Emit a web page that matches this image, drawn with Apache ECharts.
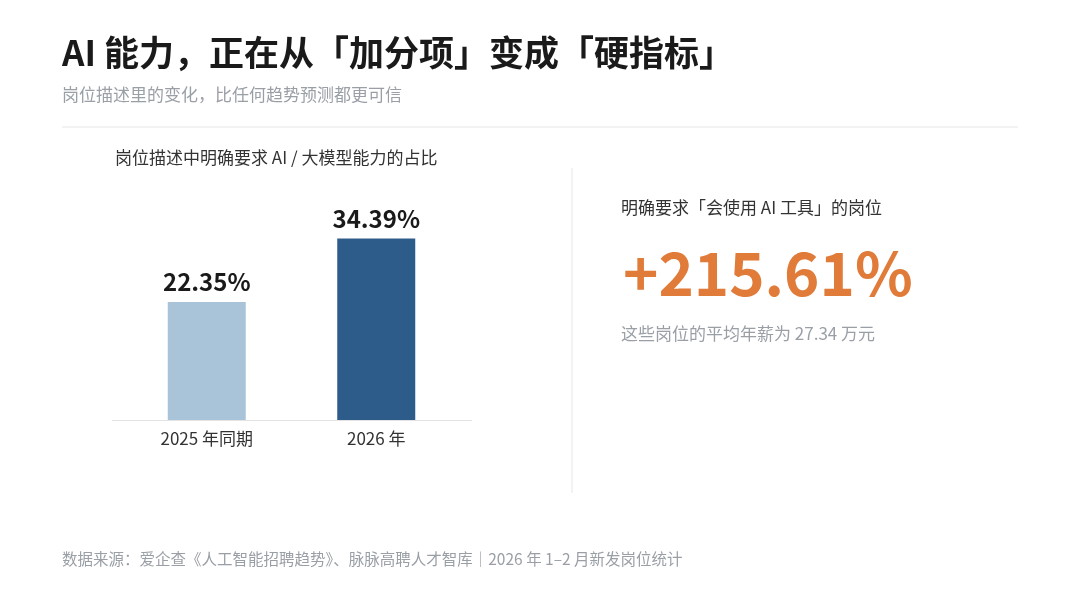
<!DOCTYPE html>
<html><head><meta charset="utf-8">
<script src="https://cdn.jsdelivr.net/npm/echarts@6/dist/echarts.min.js"></script>
<style>html,body{margin:0;padding:0;background:#fff}#c{width:1080px;height:600px}</style>
</head><body><div id="c"></div>
<script>
const categories = ['2025 年同期', '2026 年'];
const values = [22.35, 34.39];
const barColors = ['#A9C4D9', '#2E5C8A'];
const bigNumber = '+215.61%';
const F = '"Noto Sans CJK SC","Noto Sans",sans-serif';
const chart = echarts.init(document.getElementById('c'));
chart.setOption({
  backgroundColor: '#fff',
  grid: {left: 122, width: 339, top: 209, bottom: 180},
  xAxis: {type: 'category', data: categories,
    axisLine: {show: false}, axisTick: {show: false},
    axisLabel: {color: '#333', fontSize: 17, fontFamily: F, margin: 10}},
  yAxis: {type: 'value', min: 0, max: 40, show: false},
  series: [{type: 'bar', barWidth: 78,
    data: values.map((v, i) => ({value: v, itemStyle: {color: barColors[i]}})),
    label: {show: true, position: 'top', distance: 8, formatter: p => p.value.toFixed(2) + '%',
      fontSize: 24, fontWeight: 'bold', color: '#1a1a1a', fontFamily: F}}],
  graphic: [
    {type: 'line', shape: {x1: 112, y1: 420.5, x2: 472, y2: 420.5}, style: {stroke: '#e3e3e3', lineWidth: 1}},
    {type: 'text', left: 62, top: 35, style: {text: 'AI 能力，正在从「加分项」变成「硬指标」', font: 'bold 35px ' + F, fill: '#1a1a1a'}},
    {type: 'text', left: 62, top: 86, style: {text: '岗位描述里的变化，比任何趋势预测都更可信', font: '17px ' + F, fill: '#9a9fa6'}},
    {type: 'line', shape: {x1: 62, y1: 127, x2: 1018, y2: 127}, style: {stroke: '#e6e6e6', lineWidth: 1}},
    {type: 'text', left: 115, top: 149, style: {text: '岗位描述中明确要求 AI / 大模型能力的占比', font: '17px ' + F, fill: '#333'}},
    {type: 'line', shape: {x1: 572, y1: 168, x2: 572, y2: 493}, style: {stroke: '#e6e6e6', lineWidth: 1}},
    {type: 'text', left: 621, top: 199, style: {text: '明确要求「会使用 AI 工具」的岗位', font: '17px ' + F, fill: '#333'}},
    {type: 'text', left: 623, top: 243, style: {text: bigNumber, font: 'bold 60px ' + F, fill: '#E07B39'}},
    {type: 'text', left: 621, top: 325, style: {text: '这些岗位的平均年薪为 27.34 万元', font: '17px ' + F, fill: '#9a9fa6'}},
    {type: 'text', left: 62, top: 551, style: {text: '数据来源：爱企查《人工智能招聘趋势》、脉脉高聘人才智库｜2026 年 1–2 月新发岗位统计', font: '15.5px ' + F, fill: '#9a9fa6'}}
  ]
});
</script></body></html>
